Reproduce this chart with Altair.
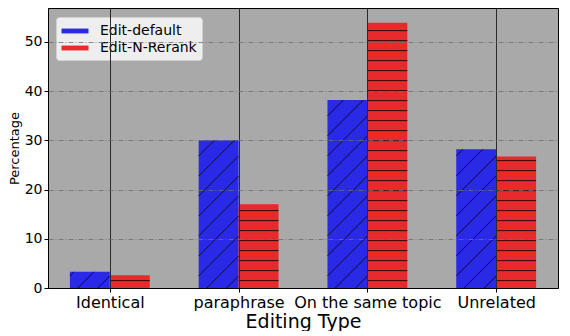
import json
import altair as alt
import pandas as pd

# ---- data ----
categories = ["Identical", "paraphrase", "On the same topic", "Unrelated"]
series = ["Edit-default", "Edit-N-Rerank"]
edit_default = [3.3, 30.0, 38.2, 28.2]
edit_n_rerank = [2.6, 17.0, 53.9, 26.7]
y_ticks = [0, 10, 20, 30, 40, 50]

# ---- style ----
BLUE = "#2a2ae6"
RED = "#e92a2c"
BG = "#a9a9a9"
FONT = "DejaVu Sans"
W, H = 510, 280
X_DOM = [-0.48, 3.48]
Y_DOM = [0, 56.9]
BAR_W = 0.31
XPX = W / (X_DOM[1] - X_DOM[0])
YPX = H / (Y_DOM[1] - Y_DOM[0])

# bar table
bars = []
for i, c in enumerate(categories):
    bars.append({"cat": c, "series": series[0], "x0": i - BAR_W, "x1": i, "v": edit_default[i]})
    bars.append({"cat": c, "series": series[1], "x0": i, "x1": i + BAR_W, "v": edit_n_rerank[i]})
bars_df = pd.DataFrame(bars)

# horizontal hatch for red bars (every 10 px)
hlines = []
for b in bars:
    if b["series"] != series[1]:
        continue
    y = 1.5
    while y < b["v"] - 0.2:
        hlines.append({"x0": b["x0"], "x1": b["x1"], "y": y})
        y += 10 / YPX
hatch_h = pd.DataFrame(hlines)

# diagonal hatch for blue bars (45 deg, 20 px apart)
dlines = []
for b in bars:
    if b["series"] != series[0]:
        continue
    wb = (b["x1"] - b["x0"]) * XPX
    vb = b["v"] * YPX
    c = -wb - 4 + 16
    c = c - 20 * int((c + wb) // 20 + 1)
    while c < vb:
        u0 = max(0.0, -c)
        u1 = min(wb, vb - c)
        if u1 - u0 > 1:
            dlines.append({
                "x0": b["x0"] + u0 / XPX, "y0": (u0 + c) / YPX,
                "x1": b["x0"] + u1 / XPX, "y1": (u1 + c) / YPX,
            })
        c += 20
hatch_d = pd.DataFrame(dlines)

label_expr = json.dumps(categories).replace('"', "'") + "[round(datum.value)]"

xscale = alt.Scale(domain=X_DOM, nice=False, zero=False)
yscale = alt.Scale(domain=Y_DOM, nice=False)

x_axis = alt.Axis(
    values=[0, 1, 2, 3], labelExpr=label_expr, title="Editing Type",
    labelFontSize=16, titleFontSize=19, labelFont=FONT, titleFont=FONT,
    labelColor="black", titleColor="black", titleFontWeight="normal",
    grid=True, gridColor="#2b2b2b", gridWidth=1, gridOpacity=1,
    domainColor="black", tickColor="black", tickSize=4,
    labelPadding=2, titlePadding=2, labelFlush=False, zindex=1,
)
y_axis = alt.Axis(
    values=y_ticks, title="Percentage", format="d",
    labelFontSize=14, titleFontSize=13, labelFont=FONT, titleFont=FONT,
    labelColor="black", titleColor="black", titleFontWeight="normal",
    grid=True, gridColor="#707070", gridWidth=0.8, gridDash=[5, 2, 1, 2], gridOpacity=1,
    domainColor="black", tickColor="black", tickSize=4,
    labelPadding=2, titlePadding=3, zindex=1,
)

bar_layer = alt.Chart(bars_df).mark_rect(strokeWidth=0).encode(
    x=alt.X("x0:Q", scale=xscale, axis=x_axis),
    x2="x1:Q",
    y=alt.Y("v:Q", scale=yscale, axis=y_axis),
    y2=alt.datum(0),
    color=alt.Color(
        "series:N",
        scale=alt.Scale(domain=series, range=[BLUE, RED]),
        legend=alt.Legend(
            title=None, orient="none", legendX=8, legendY=9,
            fillColor="#eeeeee", strokeColor="#d0d0d0", cornerRadius=3,
            padding=5, rowPadding=1,
            symbolType="M-1.5,-0.27H1.5V0.27H-1.5Z", symbolSize=324,
            symbolStrokeWidth=0, symbolOffset=5, labelOffset=16,
            labelFontSize=14, labelFont=FONT, labelColor="black",
        ),
    ),
)

hatch_h_layer = alt.Chart(hatch_h).mark_rule(color="#1e0000", strokeWidth=1, opacity=0.9).encode(
    x=alt.X("x0:Q", scale=xscale), x2="x1:Q", y=alt.Y("y:Q", scale=yscale)
)

hatch_d_layer = alt.Chart(hatch_d).mark_rule(color="#000000", strokeWidth=0.9, opacity=0.85).encode(
    x=alt.X("x0:Q", scale=xscale), x2="x1:Q",
    y=alt.Y("y0:Q", scale=yscale), y2="y1:Q",
)

chart = alt.layer(bar_layer, hatch_h_layer, hatch_d_layer).properties(
    width=W, height=H, padding={"left": 0, "top": 0, "right": 2, "bottom": 0},
    background="white",
).configure_view(
    fill=BG, stroke="black", strokeWidth=1
)

chart.save("out.html", embed_options={"renderer": "svg", "actions": False})
